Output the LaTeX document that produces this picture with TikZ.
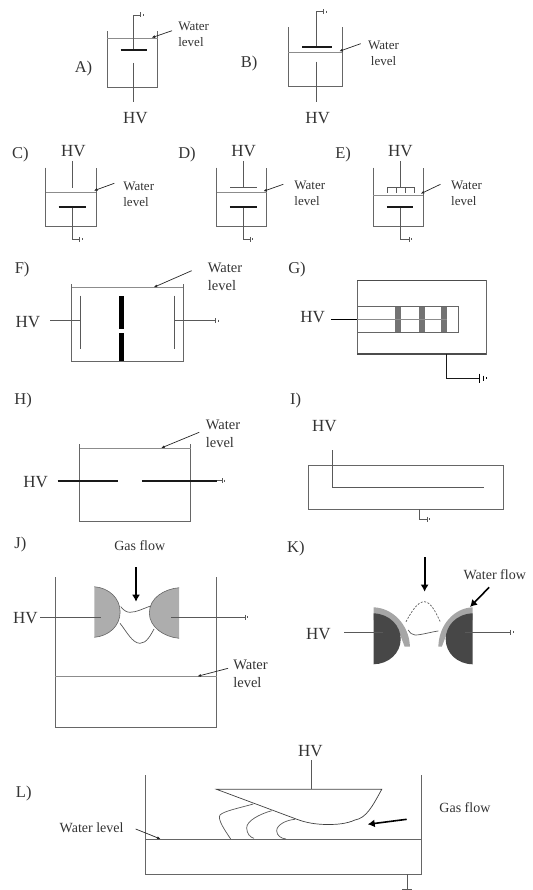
\documentclass[tikz,border=0pt]{standalone}
\usepackage{fontspec}
\setmainfont{Liberation Serif}
\usetikzlibrary{arrows.meta}

\begin{document}
\begin{tikzpicture}[x=1.018pt,y=-1pt,
    wall/.style={draw=black!60,line width=0.8pt},
    wire/.style={draw=black!65,line width=0.7pt},
    water/.style={draw=black!45,line width=0.7pt},
    plate/.style={draw=black!90,line width=2.2pt},
    pointer/.style={draw=black!85,line width=0.7pt,-{Latex[length=3.5pt,width=3pt]}},
    flow/.style={draw=black,line width=2pt,-{Latex[length=7pt,width=8pt]}},
    hv/.style={text=black!80,font=\fontsize{17}{17}\selectfont,inner sep=0pt},
    tag/.style={text=black!80,font=\fontsize{16.5}{17}\selectfont,inner sep=0pt},
    lvl/.style={text=black!80,font=\fontsize{13}{16}\selectfont,inner sep=0pt,align=left,anchor=west},
    lvlb/.style={text=black!80,font=\fontsize{14.5}{18}\selectfont,inner sep=0pt,align=left,anchor=west},
    gas/.style={text=black!80,font=\fontsize{14}{16}\selectfont,inner sep=0pt},
    gnd/.pic={\draw[wire] (0,-2.5) -- (0,2.5); \draw[wire] (2.5,-1) -- (2.5,1);}]
    \useasboundingbox (0,0) rectangle (522.6,890);

    % A
    \node[tag] (atag) at (82,69) {A)};
    \draw[wall] (105.5,31.5) |- (155,87.5) -- (155,31.5);
    \draw[water] (105.5,38.5) -- (155,38.5);
    \coordinate (a1) at (131,15);
    \coordinate (a2) at (138,15);
    \coordinate (ap) at (131,49.7);
    \coordinate (aw) at (131,63);
    \coordinate (as) at (131,102);
    \coordinate (ah) at (169,30.7);
    \coordinate (al) at (149,37.7);
    \draw[wire] (a2) -- (a1) -- (ap);
    \pic at (a2) {gnd};
    \draw[plate] (118.5,49.7) -- (144,49.7);
    \draw[wire] (aw) -- (as);
    \node[hv] (ahv) at (133,118) {HV};
    \node[lvl] (alvl) at (175,34.3) {Water\\level};
    \draw[pointer] (ah) -- (al);

    % B
    \node[tag] (btag) at (244.7,64) {B)};
    \draw[wall] (283.3,27.3) |- (336.3,86.7) -- (336.3,27.3);
    \draw[water] (283.3,52.7) -- (336.3,52.7);
    \coordinate (b1) at (310.7,11.7);
    \coordinate (b2) at (318,11.7);
    \coordinate (bp) at (310.7,47);
    \coordinate (bw) at (310.7,61.7);
    \coordinate (bs) at (310.7,102.3);
    \coordinate (bh) at (354.3,43.7);
    \coordinate (bl) at (333.3,51.3);
    \draw[wire] (b2) -- (b1) -- (bp);
    \pic at (b2) {gnd};
    \draw[plate] (296.7,47) -- (325.7,47);
    \draw[wire] (bw) -- (bs);
    \node[hv] (bhv) at (312,118) {HV};
    \node[lvl,align=center] (blvl) at (361.5,53.7) {Water\\level};
    \draw[pointer] (bh) -- (bl);

    % C
    \node[tag] (ctag) at (20,155) {C)};
    \draw[wall] (45,167.7) |- (94.7,226) -- (94.7,167.7);
    \draw[water] (45,192.3) -- (94.7,192.3);
    \node[hv] (chv) at (72,150.7) {HV};
    \coordinate (c1) at (71.3,161);
    \coordinate (c2) at (71.3,188.3);
    \coordinate (cp) at (71.3,206.7);
    \coordinate (c3) at (71.3,239.3);
    \coordinate (c4) at (78.3,239.3);
    \coordinate (ch) at (112.3,183.3);
    \coordinate (cl) at (92.3,190.7);
    \draw[wire] (c1) -- (c2);
    \draw[wire] (cp) -- (c3) -- (c4);
    \pic at (c4) {gnd};
    \draw[plate] (57.7,206.7) -- (84.3,206.7);
    \node[lvl] (clvl) at (121,194.7) {Water\\level};
    \draw[pointer] (ch) -- (cl);

    % D
    \node[tag] (dtag) at (183.7,155) {D)};
    \draw[wall] (212.7,167.7) |- (262,226) -- (262,167.7);
    \draw[water] (212.7,192.3) -- (262,192.3);
    \node[hv] (dhv) at (239.3,150.7) {HV};
    \coordinate (d1) at (238.7,161);
    \coordinate (d2) at (238.7,187.7);
    \coordinate (dp) at (238.7,206.7);
    \coordinate (d3) at (238.7,239.3);
    \coordinate (d4) at (245.7,239.3);
    \coordinate (dh) at (278.3,184.3);
    \coordinate (dl) at (258.7,191.3);
    \draw[wire] (d1) -- (d2);
    \draw[wire] (226,187.7) -- (252.3,187.7);
    \draw[wire] (dp) -- (d3) -- (d4);
    \pic at (d4) {gnd};
    \draw[plate] (225.7,206.7) -- (252,206.7);
    \node[lvl] (dlvl) at (289,193.2) {Water\\level};
    \draw[pointer] (dh) -- (dl);

    % E
    \node[tag] (etag) at (337,155) {E)};
    \draw[wall] (366.7,167.7) |- (416,226) -- (416,167.7);
    \draw[water] (366.7,195) -- (416,195);
    \node[hv] (ehv) at (393.3,150.7) {HV};
    \coordinate (e1) at (393.3,161);
    \coordinate (e2) at (393.3,187.7);
    \coordinate (ep) at (393.3,206.7);
    \coordinate (e3) at (393.3,239.3);
    \coordinate (e4) at (401.7,239.3);
    \coordinate (eh) at (432.7,184.3);
    \coordinate (el) at (413.3,193.7);
    \draw[wire] (e1) -- (e2);
    \draw[wire] (380.3,192.7) |- (407.3,187.7) -- (407.3,192.7);
    \draw[wire] (389,187.7) -- (389,192.7);
    \draw[wire] (398.3,187.7) -- (398.3,192.7);
    \draw[wire] (ep) -- (e3) -- (e4);
    \pic at (e4) {gnd};
    \draw[plate] (380,206.7) -- (406,206.7);
    \node[lvl] (elvl) at (443,193.2) {Water\\level};
    \draw[pointer] (eh) -- (el);

    % F
    \node[tag] (ftag) at (21.7,270) {F)};
    \draw[wall] (70.3,284) |- (180,361) -- (180,284);
    \draw[water] (70.3,287.7) -- (180,287.7);
    \node[hv] (fhv) at (27.3,321.7) {HV};
    \coordinate (f1) at (49.3,320.7);
    \coordinate (f2) at (79.3,320.7);
    \coordinate (f3) at (171.3,320.7);
    \coordinate (f4) at (211.7,320.7);
    \coordinate (fh) at (188.3,270.7);
    \coordinate (fl) at (151,287.3);
    \draw[wire] (f1) -- (f2);
    \draw[wire] (f3) -- (f4);
    \pic at (f4) {gnd};
    \draw[wire] (79.3,295.7) -- (79.3,349.3);
    \draw[wire] (171.3,295.7) -- (171.3,349.3);
    \fill[black] (116.5,295.7) rectangle (121.5,328.7);
    \fill[black] (116.5,332.7) rectangle (121.5,361);
    \node[lvlb] (flvl) at (204,276.5) {Water\\level};
    \draw[pointer] (fh) -- (fl);

    % G
    \node[tag] (gtag) at (291.7,270) {G)};
    \draw[wall] (351,280.7) rectangle (477.3,354);
    \draw[draw=black!70,line width=1.2pt] (351,280.7) -- (477.3,280.7);
    \draw[draw=black!70,line width=1.2pt] (351,354) -- (477.3,354);
    \fill[black!55] (387.7,306.7) rectangle (394.3,332.3);
    \fill[black!55] (411.7,306.7) rectangle (417.7,332.3);
    \fill[black!55] (433.3,306.7) rectangle (439.3,332.3);
    \draw[wall] (351,306.7) rectangle (450,332.3);
    \node[hv] (ghv) at (307,317.3) {HV};
    \coordinate (g1) at (325,319.3);
    \coordinate (g2) at (351,319.3);
    \coordinate (g3) at (439.3,319.3);
    \coordinate (g4) at (438.3,354);
    \coordinate (g5) at (438.3,378);
    \coordinate (g6) at (471,378);
    \draw[draw=black,line width=0.9pt] (g1) -- (g2);
    \draw[water] (g2) -- (g3);
    \draw[draw=black!90,line width=0.9pt] (g4) -- (g5) -- (g6);
    \draw[draw=black,line width=0.9pt] (471,373.5) -- (471,382.5);
    \draw[draw=black,line width=0.9pt] (474.7,375.5) -- (474.7,380.5);
    \draw[draw=black,line width=0.7pt] (477.3,377) -- (477.3,379);

    % H
    \node[tag] (htag) at (22.7,400.7) {H)};
    \draw[wall] (78.3,444) |- (187.3,521.7) -- (187.3,444);
    \draw[water] (78.3,448.3) -- (187.3,448.3);
    \node[hv] (hhv) at (35,481.7) {HV};
    \coordinate (h1) at (56.7,480.7);
    \coordinate (h2) at (116,480.7);
    \coordinate (h3) at (139.3,480.7);
    \coordinate (h4) at (213.3,480.7);
    \coordinate (h5) at (218.3,480.7);
    \coordinate (hh) at (195.7,432.3);
    \coordinate (hl) at (158.3,448);
    \draw[plate] (h1) -- (h2);
    \draw[plate] (h3) -- (h4);
    \draw[wire] (h4) -- (h5);
    \pic at (h5) {gnd};
    \node[lvlb] (hlvl) at (202,434.2) {Water\\level};
    \draw[pointer] (hh) -- (hl);

    % I
    \node[tag] (itag) at (290.3,401) {I)};
    \draw[wall] (303,465) rectangle (494,509);
    \node[hv] (ihv) at (318.7,426) {HV};
    \coordinate (i1) at (326,450.3);
    \coordinate (i2) at (326,487);
    \coordinate (i3) at (475.7,487);
    \coordinate (i4) at (412,509);
    \coordinate (i5) at (412,519.3);
    \coordinate (i6) at (419.3,519.3);
    \draw[wire] (i1) -- (i2) -- (i3);
    \draw[wire] (i4) -- (i5) -- (i6);
    \pic at (i6) {gnd};

    % J
    \node[tag] (jtag) at (20,545) {J)};
    \node[gas] (jgas) at (137.3,545.7) {Gas flow};
    \draw[wall] (54.3,577.3) |- (212.7,727.7) -- (212.7,577.3);
    \draw[water] (54.3,676.7) -- (212.7,676.7);
    \draw[draw=black!60,fill=black!32,line width=0.6pt] (92.7,586.7) .. controls (107,588) and (118,598) .. (118,612) .. controls (118,626) and (107,636) .. (92.7,637.3);
    \draw[draw=black!60,fill=black!32,line width=0.6pt] (176,587.7) .. controls (161,589) and (146.7,598) .. (146.7,613) .. controls (146.7,627) and (161,637) .. (176,638.3);
    \draw[wire] (118.6,606.7) .. controls (122,611) and (125,612.3) .. (127.7,612.3) .. controls (134,612.3) and (142,608) .. (148,606);
    \draw[wire] (117.9,623.3) .. controls (124,631) and (130,643.3) .. (137.5,643.3) .. controls (144,643.3) and (148,635) .. (151.3,629);
    \node[hv] (jhv) at (25,618.3) {HV};
    \coordinate (j1) at (39.3,617.3);
    \coordinate (j2) at (99,617.3);
    \coordinate (j3) at (168.3,617.3);
    \coordinate (j4) at (240.7,617.3);
    \coordinate (jt) at (133.6,567.3);
    \coordinate (jb) at (133.6,601.7);
    \coordinate (jh) at (224,668.3);
    \coordinate (jl) at (194,676.3);
    \draw[wire] (j1) -- (j2);
    \draw[wire] (j3) -- (j4);
    \pic at (j4) {gnd};
    \draw[flow] (jt) -- (jb);
    \node[lvlb] (jlvl) at (229,674.2) {Water\\level};
    \draw[pointer] (jh) -- (jl);

    % K
    \node[tag] (ktag) at (290.7,549) {K)};
    \node[gas] (kflow) at (486,575) {Water flow};
    \fill[black!35] (367,607.3) .. controls (386,608) and (402,625) .. (402.7,646.7) -- (397.5,646.7) -- (392,632) -- (375,620) -- (367,620) -- cycle;
    \fill[black!35] (464.3,607.3) .. controls (446,608) and (431,625) .. (430.6,646.7) -- (434,646.7) -- (439.5,632) -- (456,620) -- (464.3,620) -- cycle;
    \fill[black!72] (367,613.3) .. controls (383,614) and (393.6,626) .. (393.6,639) .. controls (393.6,653) and (382,664) .. (367,664.3) -- cycle;
    \fill[black!72] (464.3,613.3) .. controls (448,614) and (437.8,626) .. (437.8,639) .. controls (437.8,653) and (449,664) .. (464.3,664.3) -- cycle;
    \draw[wire,dash pattern=on 2pt off 1.5pt] (398.8,621.7) .. controls (404,612) and (410,601.7) .. (416.8,601.7) .. controls (423,601.7) and (428,612) .. (432.9,622.7);
    \draw[wire] (401,630) .. controls (403,633) and (405,635) .. (407.7,635) .. controls (414,635) and (423,632) .. (430.6,631);
    \node[hv] (khv) at (312.7,634) {HV};
    \coordinate (k1) at (338.3,632.3);
    \coordinate (k2) at (376.7,632.3);
    \coordinate (k3) at (456.7,632.3);
    \coordinate (k4) at (501.6,632.3);
    \coordinate (kt) at (417.1,557.3);
    \coordinate (kb) at (417.1,591.7);
    \coordinate (kh) at (480.5,587.3);
    \coordinate (kl) at (461.7,607);
    \draw[wire] (k1) -- (k2);
    \draw[wire] (k3) -- (k4);
    \pic at (k4) {gnd};
    \draw[flow] (kt) -- (kb);
    \draw[flow,line width=1.6pt] (kh) -- (kl);

    % L
    \node[tag] (ltag) at (23.3,794) {L)};
    \draw[wall] (143.3,775) |- (414.3,874.3) -- (414.3,775);
    \draw[wall] (143.3,839) -- (414.3,839);
    \draw[draw=black!75,line width=0.7pt] (212.7,789.3) -- (375,789.3) .. controls (366,806) and (360,818) .. (348.7,820) .. controls (340,824) and (330,824.5) .. (322,824.5) .. controls (310,824.5) and (300,822.5) .. (291.7,819.3) -- cycle;
    \draw[wire] (248.8,804) .. controls (235,808) and (220,811) .. (216.1,815) .. controls (213,819) and (222,832) .. (226.6,839);
    \draw[wire] (266.9,810.7) .. controls (255,814) and (242,821) .. (242.3,828) .. controls (242.5,834) and (246,837.5) .. (249.5,838.3);
    \draw[wire] (289.8,819.3) .. controls (281,820) and (271.5,825) .. (271.8,831) .. controls (272,835.5) and (276,838.5) .. (280.9,839);
    \node[hv] (lhv) at (305,750.7) {HV};
    \coordinate (l1) at (306,760);
    \coordinate (l2) at (306,789.3);
    \coordinate (l3) at (400,874.3);
    \coordinate (l4) at (400,889.3);
    \coordinate (lh) at (133.3,829);
    \coordinate (ll) at (157.7,839);
    \coordinate (ls) at (399.5,819.3);
    \coordinate (lf) at (361.2,824.3);
    \draw[wire] (l1) -- (l2);
    \draw[wire] (l3) -- (l4);
    \draw[wire] (395,889.3) -- (405,889.3);
    \node[gas] (llvl) at (90,827.3) {Water level};
    \node[gas] (lgas) at (456.7,807.3) {Gas flow};
    \draw[pointer] (lh) -- (ll);
    \draw[flow,line width=1.6pt] (ls) -- (lf);
\end{tikzpicture}
\end{document}
